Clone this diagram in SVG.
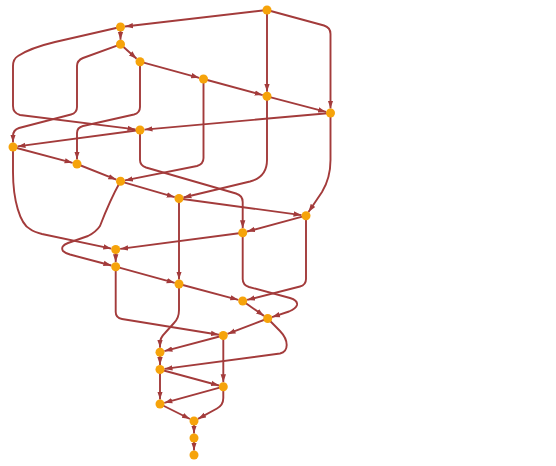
<svg xmlns="http://www.w3.org/2000/svg" width="556" height="466" viewBox="0 0 556 466">
<style>
.e{fill:none;stroke:#A33B3B;stroke-width:1.9;stroke-linejoin:round;marker-end:url(#ah)}
.n{fill:#F6A30A}
</style>
<defs>
<marker id="ah" markerUnits="userSpaceOnUse" markerWidth="9" markerHeight="7" viewBox="0 0 9 7" refX="8" refY="3.5" orient="auto">
<path d="M0,0.8 L8,3.5 L0,6.2 Z" fill="#A33B3B"/>
</marker>
</defs>
<rect width="556" height="466" fill="#ffffff"/>
<g id="edges">
<path class="e" d="M267,10 L125,26.5"/>
<path class="e" d="M267,10 L267,91.8"/>
<path class="e" d="M267,10 L324,25.5 Q330.5,27.5 330.5,34 L330.5,108.5"/>
<path class="e" d="M120.5,27 L120.5,39.8"/>
<path class="e" d="M120.5,27 L55,42 Q30,48 18,56 Q13,59 13,66 L13,106 Q13,113 20,115 L135.5,129.4"/>
<path class="e" d="M120.5,44.3 L136.6,58.7"/>
<path class="e" d="M120.5,44.3 L83,58 Q77,60.5 77,66 L77,107 Q77,113 71,114.5 L19,128 Q13,130 13,136 L13,142.5"/>
<path class="e" d="M140,61.7 L199.2,77.8"/>
<path class="e" d="M140,61.7 L140,107 Q140,113 134,114.5 L83,126 Q77,127.5 77,133 L77,159.5"/>
<path class="e" d="M203.5,79 L262.7,95.1"/>
<path class="e" d="M203.5,79 L203.5,158 Q203.5,164 197,166 L124.9,180.4"/>
<path class="e" d="M267,96.3 L326.1,111.9"/>
<path class="e" d="M267,96.3 L267,160 Q267,177 250,181.5 L183.4,197.5"/>
<path class="e" d="M330.5,113 L144.5,129.6"/>
<path class="e" d="M330.5,113 L330.5,160 Q330.5,178 322,192 L308.5,212"/>
<path class="e" d="M140,130 L17.5,146.4"/>
<path class="e" d="M140,130 L140,160 Q140,165.5 146,167.5 L236,193.5 Q242.7,195.5 242.7,202 L242.7,228.2"/>
<path class="e" d="M13,147 L72.6,162.8"/>
<path class="e" d="M13,147 L13,172 C13,200 20,224 30,229 Q34,232 42,234 L111.3,248.6"/>
<path class="e" d="M77,164 L116.3,179.6"/>
<path class="e" d="M120.5,181.3 L174.7,197.2"/>
<path class="e" d="M120.5,181.3 Q110,200 100,226 Q96,232 88,236 L68,243 Q60,246 63,251 Q65,253 70,254.5 L111.4,265.5"/>
<path class="e" d="M179,198.5 L301.5,215.1"/>
<path class="e" d="M179,198.5 L179,279.5"/>
<path class="e" d="M306,215.7 L247.1,231.5"/>
<path class="e" d="M306,215.7 L306,279 Q306,285 300,286.5 L247.1,299.9"/>
<path class="e" d="M242.7,232.7 L120.2,248.9"/>
<path class="e" d="M242.7,232.7 L242.7,279 Q242.7,285 249,287 L290,298 Q298,300.5 297,305 Q296,308.5 289,311.5 L272,317.1"/>
<path class="e" d="M115.7,249.5 L115.7,262.2"/>
<path class="e" d="M115.7,266.7 L174.7,282.8"/>
<path class="e" d="M115.7,266.7 L115.7,312 Q115.7,318 122,319 L218.9,334.8"/>
<path class="e" d="M179,284 L238.3,299.8"/>
<path class="e" d="M179,284 L179,310 Q179,318 174,323 L165,333 Q160,338 160,343 L160,347.8"/>
<path class="e" d="M242.7,301 L264,315.9"/>
<path class="e" d="M267.7,318.5 L227.5,333.9"/>
<path class="e" d="M267.7,318.5 L280,331 Q286.7,338 286.7,345 Q286.7,352 280,353.5 L164.5,368.9"/>
<path class="e" d="M223.3,335.5 L164.4,351.1"/>
<path class="e" d="M223.3,335.5 L223.3,382.2"/>
<path class="e" d="M160,352.3 L160,365"/>
<path class="e" d="M160,369.5 L219,385.5"/>
<path class="e" d="M160,369.5 L160,399.5"/>
<path class="e" d="M223.3,386.7 L164.3,402.8"/>
<path class="e" d="M223.3,386.7 L223.3,398 Q223.3,405 217,408.5 L198,418.9"/>
<path class="e" d="M160,404 L190,419"/>
<path class="e" d="M194,421 L194,433.5"/>
<path class="e" d="M194,438 L194,450.5"/>
</g>
<g id="nA"><circle class="n" cx="267" cy="10" r="4.5"/></g>
<g id="nB"><circle class="n" cx="120.5" cy="27" r="4.5"/></g>
<g id="nC"><circle class="n" cx="120.5" cy="44.3" r="4.5"/></g>
<g id="nD"><circle class="n" cx="140" cy="61.7" r="4.5"/></g>
<g id="nE"><circle class="n" cx="203.5" cy="79" r="4.5"/></g>
<g id="nF"><circle class="n" cx="267" cy="96.3" r="4.5"/></g>
<g id="nG"><circle class="n" cx="330.5" cy="113" r="4.5"/></g>
<g id="nH"><circle class="n" cx="140" cy="130" r="4.5"/></g>
<g id="nI"><circle class="n" cx="13" cy="147" r="4.5"/></g>
<g id="nJ"><circle class="n" cx="77" cy="164" r="4.5"/></g>
<g id="nK"><circle class="n" cx="120.5" cy="181.3" r="4.5"/></g>
<g id="nL"><circle class="n" cx="179" cy="198.5" r="4.5"/></g>
<g id="nM"><circle class="n" cx="306" cy="215.7" r="4.5"/></g>
<g id="nN"><circle class="n" cx="242.7" cy="232.7" r="4.5"/></g>
<g id="nO"><circle class="n" cx="115.7" cy="249.5" r="4.5"/></g>
<g id="nP"><circle class="n" cx="115.7" cy="266.7" r="4.5"/></g>
<g id="nQ"><circle class="n" cx="179" cy="284" r="4.5"/></g>
<g id="nR"><circle class="n" cx="242.7" cy="301" r="4.5"/></g>
<g id="nS"><circle class="n" cx="267.7" cy="318.5" r="4.5"/></g>
<g id="nT"><circle class="n" cx="223.3" cy="335.5" r="4.5"/></g>
<g id="nU"><circle class="n" cx="160" cy="352.3" r="4.5"/></g>
<g id="nV"><circle class="n" cx="160" cy="369.5" r="4.5"/></g>
<g id="nW"><circle class="n" cx="223.3" cy="386.7" r="4.5"/></g>
<g id="nX"><circle class="n" cx="160" cy="404" r="4.5"/></g>
<g id="nY"><circle class="n" cx="194" cy="421" r="4.5"/></g>
<g id="nZ"><circle class="n" cx="194" cy="438" r="4.5"/></g>
<g id="nAA"><circle class="n" cx="194" cy="455" r="4.5"/></g>
</svg>
